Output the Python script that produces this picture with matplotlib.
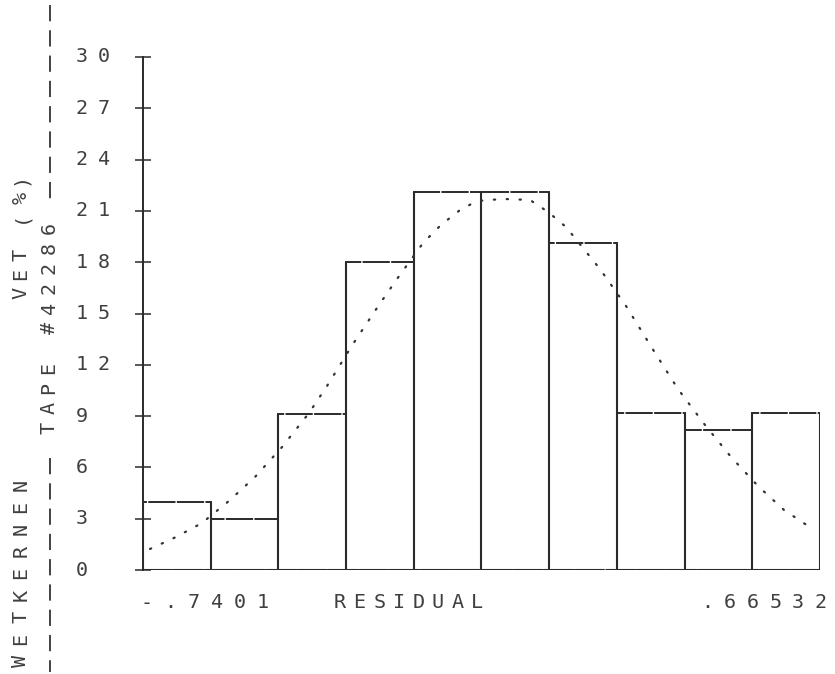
"""Residual histogram with fitted normal curve, pen-plotter style."""

import matplotlib

matplotlib.use("Agg")
import matplotlib.pyplot as plt
import numpy as np
from matplotlib.lines import Line2D

W, H = 835, 674

# histogram: percent of cases per bin, range given by the end labels
x_lo, x_hi = -0.7401, 0.66532
pct = [4.0, 3.0, 9.1, 18.0, 22.1, 22.1, 19.1, 9.2, 8.2, 9.2]

# fitted normal curve, read point by point
curve_x = [-0.7256, -0.6716, -0.6176, -0.5616, -0.5076, -0.4515, -0.3955, -0.3581,
           -0.3041, -0.2502, -0.2128, -0.1588, -0.1215, -0.0820, -0.0467, 0.0073,
           0.0633, 0.1007, 0.1380, 0.1733, 0.2086, 0.2626, 0.3166, 0.3706,
           0.4266, 0.4806, 0.5366, 0.5906, 0.6467]
curve_y = [1.23, 1.93, 2.75, 4.04, 5.44, 7.19, 9.18, 10.76,
           13.22, 15.50, 17.02, 19.12, 20.18, 21.05, 21.58, 21.70,
           21.64, 20.94, 20.06, 18.83, 17.60, 15.44, 12.98, 10.58,
           8.48, 6.61, 4.91, 3.51, 2.46]

y_ticks = [0, 3, 6, 9, 12, 15, 18, 21, 24, 27, 30]
x_left_label = "-.7401"
x_right_label = ".66532"
x_title = "RESIDUAL"
y_title_1 = "VET (%)"
y_title_2 = "TAPE #42286"
y_title_3 = "WETKERNEN"

INK = "#2a2a2a"
FONT = dict(family="DejaVu Sans Mono", fontsize=14.5, color="#404040")

fig = plt.figure(figsize=(W / 100, H / 100), dpi=100)
fig.patch.set_facecolor("white")

# axes box in pixel terms: 143..820 across, 57..570 down
ax = fig.add_axes([143 / W, 1 - 570 / H, (820 - 143) / W, (570 - 57) / H])
ax.set_xlim(x_lo, x_hi)
ax.set_ylim(0, 30)
ax.set_facecolor("none")
for side in ("top", "right", "bottom"):
    ax.spines[side].set_visible(False)
ax.spines["left"].set_color(INK)
ax.spines["left"].set_linewidth(1.4)
ax.set_xticks([])
ax.set_yticks(y_ticks)
ax.set_yticklabels([])
ax.tick_params(axis="y", direction="inout", length=11, width=1.1, color=INK)

edges = np.linspace(x_lo, x_hi, len(pct) + 1)
widths = np.diff(edges)

# bar tops: plotter strokes with tiny gaps
ax.bar(edges[:-1], pct, width=widths, align="edge", fill=False,
       edgecolor=INK, linewidth=1.4, linestyle=(0, (14, 0.7)), zorder=2)
# bar sides solid, each shared edge up to the taller neighbour
side_h = [max(a, b) for a, b in zip([0] + pct, pct + [0])]
ax.vlines(edges, 0, side_h, color=INK, linewidth=1.5, zorder=3)
# baseline
ax.hlines(0, x_lo, x_hi, color=INK, linewidth=1.5, linestyle=(0, (14, 0.8)), zorder=3)

# normal curve drawn as a dotted trace
ax.plot(curve_x, curve_y, color="#333333", linewidth=1.6,
        linestyle=(0, (0.6, 5.2)), dash_capstyle="round", zorder=4)


def _fxy(px, py):
    return px / W, 1 - py / H


def letters(s, px, py, pitch, vertical=False):
    """Place one glyph per character at a fixed pitch, like a pen plotter."""
    for i, ch in enumerate(s):
        if ch == " ":
            continue
        if vertical:
            fig.text(*_fxy(px, py - i * pitch), ch, rotation=90,
                     ha="center", va="center", **FONT)
        else:
            fig.text(*_fxy(px + i * pitch, py), ch,
                     ha="center", va="center", **FONT)


# y tick labels, left aligned in two digit cells
for v in y_ticks:
    for i, ch in enumerate(str(v)):
        ax.text((82 + i * 22 - 143) / (820 - 143), v, ch,
                transform=ax.get_yaxis_transform(),
                ha="center", va="center", **FONT)

# x annotations under the baseline
letters(x_left_label, 147, 603, 23.2)
letters(x_title, 340, 603, 19.6)
letters(x_right_label, 707, 603, 22.8)

# rotated titles on the left, read bottom to top
letters(y_title_1, 21, 293, 19, vertical=True)
letters(y_title_2, 49, 428, 20, vertical=True)
letters(y_title_3, 21, 661, 22, vertical=True)

# dashed rules either side of the tape title
for y0, y1 in ((5, 206), (458, 672)):
    fig.add_artist(Line2D([50 / W, 50 / W], [1 - y0 / H, 1 - y1 / H],
                          color="#333333", linewidth=1.3, linestyle=(0, (9, 5))))

fig.savefig("out.png", dpi=100, facecolor="white")
